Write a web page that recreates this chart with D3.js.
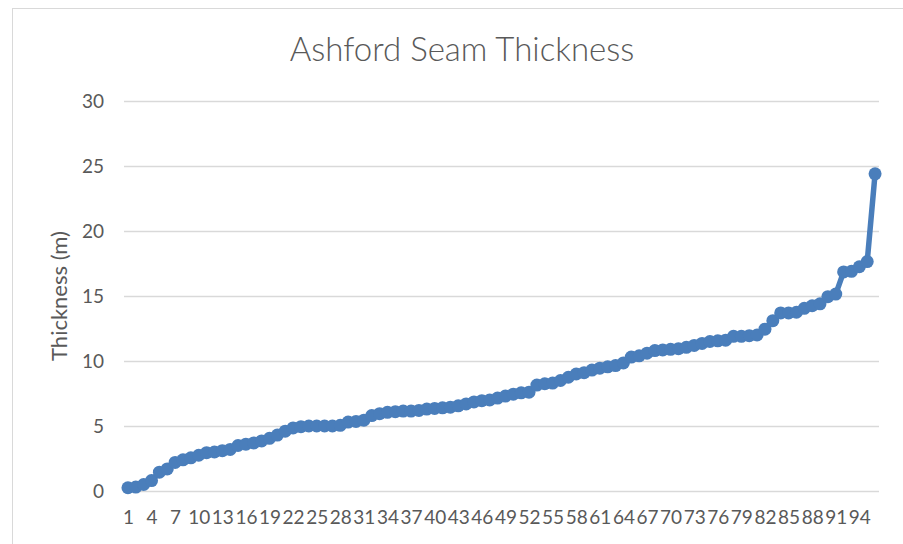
<!DOCTYPE html>
<html>
<head>
<meta charset="utf-8">
<script src="https://cdn.jsdelivr.net/npm/d3@7"></script>
<style>
	body { margin: 0; background: #fff; }
	svg { display: block; }
</style>
</head>
<body>
<svg id="chart" width="903" height="544"></svg>
<script>
	// sample numbers 1..96 along the seam, sorted thickness in metres
	var muestras = d3.range(1, 97);
	var espesor = [
		0.25, 0.3, 0.5, 0.8, 1.45, 1.7, 2.2, 2.4, 2.55, 2.75,
		2.95, 3.0, 3.1, 3.2, 3.5, 3.6, 3.7, 3.85, 4.05, 4.3,
		4.6, 4.85, 4.95, 5.0, 5.0, 5.0, 5.0, 5.05, 5.3, 5.35,
		5.45, 5.8, 5.95, 6.05, 6.1, 6.15, 6.15, 6.2, 6.3, 6.35,
		6.4, 6.45, 6.55, 6.7, 6.85, 6.95, 7.0, 7.15, 7.3, 7.45,
		7.55, 7.6, 8.15, 8.25, 8.3, 8.5, 8.75, 9.0, 9.1, 9.3,
		9.45, 9.55, 9.65, 9.85, 10.3, 10.4, 10.6, 10.8, 10.85, 10.9,
		10.95, 11.05, 11.2, 11.35, 11.5, 11.55, 11.6, 11.9, 11.9, 11.95,
		12.0, 12.45, 13.1, 13.7, 13.7, 13.75, 14.05, 14.25, 14.4, 14.95,
		15.15, 16.85, 16.9, 17.25, 17.65, 24.4
	];
	var ticks_y = [0, 5, 10, 15, 20, 25, 30];
	var ticks_x = muestras.filter(d => (d - 1) % 3 == 0);

	var titulo = "Ashford Seam Thickness";
	var titulo_y = "Thickness (m)";

	var azul = "#4a7ebb";
	var gris = "#d9d9d9";
	var texto = "#595959";
	var fuente = "Lato, 'Open Sans', sans-serif";

	var svg = d3.select("#chart");

	svg.append("rect").attr("width", 903).attr("height", 544).attr("fill", "#fff");
	// outer chart frame (right and bottom edges fall outside the picture)
	svg.append("rect")
		.attr("x", 12.5).attr("y", 8.5)
		.attr("width", 1000).attr("height", 1000)
		.attr("fill", "none").attr("stroke", gris);

	var x = d3.scalePoint().domain(muestras).range([124, 879]).padding(0.5);
	var y = d3.scaleLinear().domain([0, 30]).range([491, 101]);

	// gridlines
	svg.append("g").selectAll("line").data(ticks_y).enter().append("line")
		.attr("x1", 124).attr("x2", 879)
		.attr("y1", d => Math.round(y(d)) + 0.5).attr("y2", d => Math.round(y(d)) + 0.5)
		.attr("stroke", gris).attr("stroke-width", 1.3);

	var eje_y = svg.append("g")
		.attr("transform", "translate(104,0)")
		.call(d3.axisLeft(y).tickValues(ticks_y).tickSize(0).tickPadding(0));
	eje_y.select(".domain").remove();
	eje_y.selectAll("text").attr("font-family", fuente).attr("font-size", 19).attr("fill", texto);

	var eje_x = svg.append("g")
		.attr("transform", "translate(0,491)")
		.call(d3.axisBottom(x).tickValues(ticks_x).tickSize(0).tickPadding(20));
	eje_x.select(".domain").remove();
	eje_x.selectAll("text").attr("font-family", fuente).attr("font-size", 19).attr("fill", texto);

	svg.append("text")
		.attr("x", 462).attr("y", 61)
		.attr("text-anchor", "middle")
		.attr("font-family", fuente).attr("font-weight", 300).attr("font-size", 33)
		.attr("fill", texto)
		.text(titulo);

	svg.append("text")
		.attr("transform", "translate(67,296) rotate(-90)")
		.attr("text-anchor", "middle")
		.attr("font-family", fuente).attr("font-size", 22)
		.attr("fill", texto)
		.text(titulo_y);

	var linea = d3.line().x((d, i) => x(muestras[i])).y(d => y(d));

	svg.append("path")
		.datum(espesor)
		.attr("d", linea)
		.attr("fill", "none").attr("stroke", azul)
		.attr("stroke-width", 5.5).attr("stroke-linejoin", "round");

	svg.append("g").selectAll("circle").data(espesor).enter().append("circle")
		.attr("cx", (d, i) => x(muestras[i]))
		.attr("cy", d => y(d))
		.attr("r", 6.5)
		.attr("fill", azul);
</script>
</body>
</html>
